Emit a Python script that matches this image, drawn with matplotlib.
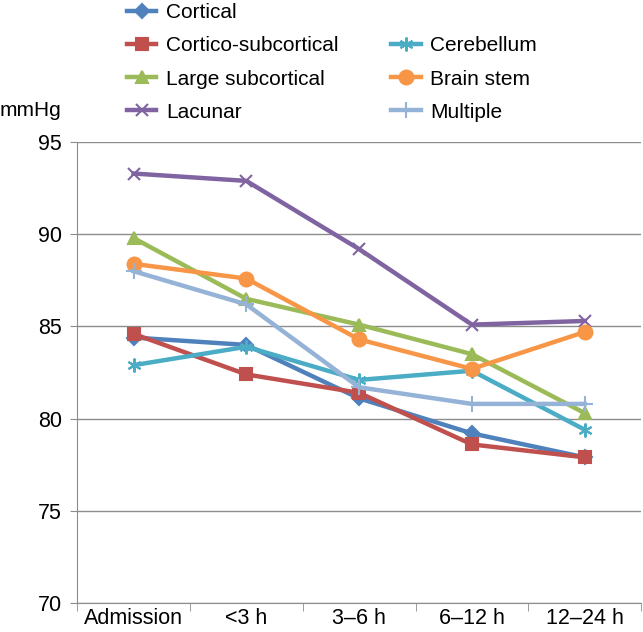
import numpy as np
import matplotlib.pyplot as plt
from matplotlib.lines import Line2D

plt.rcParams['font.family'] = ['Liberation Sans', 'DejaVu Sans']

categories = ["Admission", "<3 h", "3\u20136 h", "6\u201312 h", "12\u201324 h"]

cortical = [84.4, 84.0, 81.1, 79.2, 77.9]
cortico_sub = [84.6, 82.4, 81.4, 78.6, 77.9]
large_sub = [89.8, 86.5, 85.1, 83.5, 80.3]
lacunar = [93.3, 92.9, 89.2, 85.1, 85.3]
cerebellum = [82.9, 83.9, 82.1, 82.6, 79.4]
brain_stem = [88.4, 87.6, 84.3, 82.7, 84.7]
multiple = [88.0, 86.2, 81.7, 80.8, 80.8]

series = [
    ("Cortical", cortical, "#4F81BD", "D", 7),
    ("Cortico-subcortical", cortico_sub, "#C0504D", "s", 9),
    ("Large subcortical", large_sub, "#9BBB59", "^", 9),
    ("Lacunar", lacunar, "#8064A2", "x", 9),
    ("Cerebellum", cerebellum, "#4BACC6", (6, 2, 0), 10),
    ("Brain stem", brain_stem, "#F79646", "o", 10),
    ("Multiple", multiple, "#95B3D7", "+", 11),
]

fig = plt.figure(figsize=(6.43, 6.32), dpi=100)
ax = fig.add_axes([0.12, 0.046, 0.877, 0.729])

x = np.arange(len(categories))
handles = {}
for name, vals, col, mk, ms in series:
    ln, = ax.plot(x, vals, color=col, lw=3.2, marker=mk, markersize=ms,
                  markeredgecolor=col, markeredgewidth=1.5, label=name, zorder=3)
    handles[name] = ln

ax.set_xlim(-0.5, len(categories) - 0.5)
ax.set_ylim(70, 95)
ax.set_yticks([70, 75, 80, 85, 90, 95])
ax.yaxis.grid(True, color="#8C8C8C", lw=1)
ax.set_axisbelow(True)

ax.set_xticks(x)
ax.set_xticklabels(categories)
ax.set_xticks(np.arange(len(categories) + 1) - 0.5, minor=True)
ax.tick_params(axis="x", which="major", length=0, labelsize=15.5, pad=4)
ax.tick_params(axis="x", which="minor", length=6, color="#8C8C8C")
ax.tick_params(axis="y", length=5, color="#8C8C8C", labelsize=15.5, pad=6)

for s in ["top", "right"]:
    ax.spines[s].set_visible(False)
for s in ["left", "bottom"]:
    ax.spines[s].set_color("#8C8C8C")

fig.text(0.0, 0.825, "mmHg", fontsize=15, ha="left", va="center")

blank = Line2D([], [], color="none")
order = [handles["Cortical"], handles["Cortico-subcortical"],
         handles["Large subcortical"], handles["Lacunar"], blank,
         handles["Cerebellum"], handles["Brain stem"], handles["Multiple"]]
labels = ["Cortical", "Cortico-subcortical", "Large subcortical", "Lacunar", "",
          "Cerebellum", "Brain stem", "Multiple"]
fig.legend(order, labels, ncol=2, loc="upper left", bbox_to_anchor=(0.185, 1.008),
           frameon=False, fontsize=15, handlelength=1.4, handletextpad=0.45,
           labelspacing=0.68, columnspacing=2.55, borderaxespad=0)

fig.savefig("out.png", dpi=100)
